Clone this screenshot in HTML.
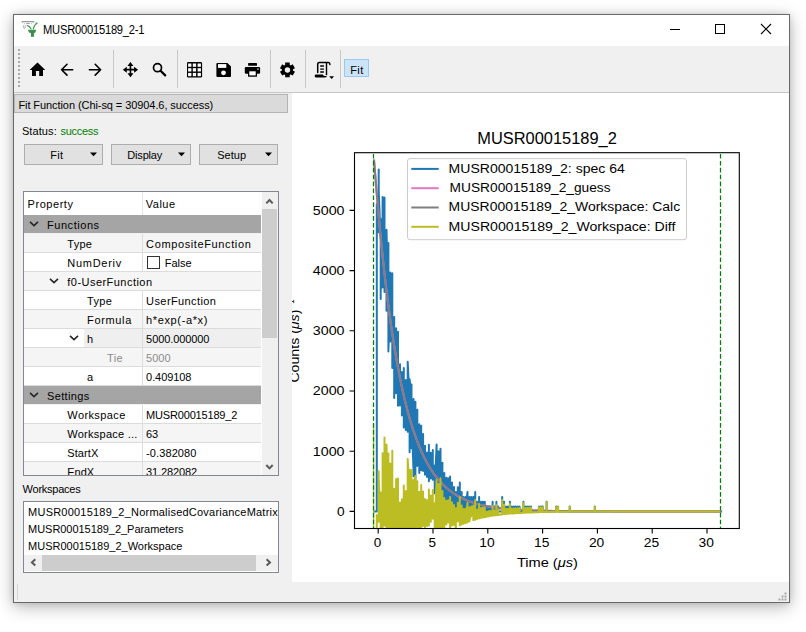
<!DOCTYPE html>
<html><head><meta charset="utf-8"><title>MUSR00015189_2-1</title>
<style>
html,body{margin:0;padding:0;width:806px;height:632px;overflow:hidden;background:#fff;font-family:"Liberation Sans",sans-serif;}
.b{position:absolute;box-sizing:border-box;}
.t{position:absolute;white-space:nowrap;font-family:"Liberation Sans",sans-serif;}
svg{overflow:hidden}
</style></head><body>
<div class="b" style="left:13px;top:14px;width:777px;height:589px;background:#f0f0f0;box-shadow:0 4px 16px rgba(0,0,0,0.28),0 0 6px rgba(0,0,0,0.12);"></div>
<div class="b" style="left:14px;top:15px;width:775px;height:31px;background:#fff"></div>
<div class="b" style="left:14px;top:46px;width:775px;height:46px;background:#f0f0f0"></div>
<div class="b" style="left:14px;top:92px;width:775px;height:1px;background:#c6c6c6"></div>
<div class="b" style="left:292px;top:93px;width:497px;height:489px;background:#fff"></div>
<div class="b" style="left:13px;top:14px;width:777px;height:589px;border:1px solid #686868;"></div>
<span class="t" style="left:43.3px;top:24.00px;font-size:12px;line-height:12px;color:#000;letter-spacing:-0.239px;transform:scaleX(0.93);transform-origin:0 0;">MUSR00015189_2-1</span>
<svg class="b" style="left:660px;top:15px" width="128" height="30" viewBox="660 15 128 30"><line x1="670" y1="29.5" x2="680" y2="29.5" stroke="#000" stroke-width="1"/><rect x="715.5" y="24.5" width="9" height="9" fill="none" stroke="#000" stroke-width="1"/><path d="M761 24 L771 34 M771 24 L761 34" stroke="#000" stroke-width="1.1"/></svg>
<svg class="b" style="left:20px;top:18px" width="20" height="20" viewBox="20 18 20 20"><path d="M22.3 22.8 V21.6 H33.7 V22.8" fill="none" stroke="#9a9a9a" stroke-width="1.1"/><path d="M26.2 23.6 H29.7" stroke="#8a8a8a" stroke-width="0.9"/><path d="M24.4 23.2 V24.2 M31.6 23.2 V24.2" stroke="#a0a0a0" stroke-width="0.8"/><path d="M23.6 25.3 V27.6 Q23.6 28.4 24.4 28.4 Q25.2 28.4 25.2 27.6 V25.3" fill="none" stroke="#a8a8a8" stroke-width="0.9"/><path d="M26.8 25.5 Q29.6 25.6 31.2 29.2" fill="none" stroke="#3f9a52" stroke-width="1.1"/><path d="M33.2 29.4 Q33.6 25.6 36.6 23.6" fill="none" stroke="#3f9a52" stroke-width="1.1"/><ellipse cx="36.6" cy="23.3" rx="1.3" ry="0.8" fill="#3f9a52"/><path d="M28.1 29.8 H36 Q36 32.9 34.1 32.9 V36.7 H30.9 V32.9 Q28.1 32.9 28.1 29.8 Z" fill="#3e8f4d"/></svg>
<div class="b" style="left:18px;top:49px;width:2px;height:39px;background:repeating-linear-gradient(to bottom,#a9a9a9 0,#a9a9a9 2px,transparent 2px,transparent 4px);"></div>
<div class="b" style="left:113px;top:50px;width:1px;height:38px;background:#c9c9c9"></div>
<div class="b" style="left:177px;top:50px;width:1px;height:38px;background:#c9c9c9"></div>
<div class="b" style="left:270px;top:50px;width:1px;height:38px;background:#c9c9c9"></div>
<div class="b" style="left:305px;top:50px;width:1px;height:38px;background:#c9c9c9"></div>
<div class="b" style="left:340px;top:50px;width:1px;height:38px;background:#c9c9c9"></div>
<svg class="b" style="left:14px;top:46px" width="360" height="46" viewBox="14 46 360 46"><path d="M37.5 62.6 L29.6 70.1 H32 V75.9 H35.9 V71.1 H39.2 V75.9 H43 V70.1 H45.3 Z" fill="#000"/><path d="M72.7 69.7 H61.6 M67 64.3 L61.6 69.7 L67 75.1" fill="none" stroke="#000" stroke-width="1.6" stroke-linecap="round" stroke-linejoin="round"/><path d="M89.4 69.7 H100.6 M95.2 64.3 L100.6 69.7 L95.2 75.1" fill="none" stroke="#000" stroke-width="1.6" stroke-linecap="round" stroke-linejoin="round"/><path d="M130.45 64.5 V74.8 M125.5 69.65 H135.4" stroke="#000" stroke-width="1.6"/><path d="M130.45 62 L133.45 66 L127.44999999999999 66 Z M130.45 77.3 L133.45 73.3 L127.44999999999999 73.3 Z M122.8 69.65 L126.8 66.65 L126.8 72.65 Z M138.1 69.65 L134.1 66.65 L134.1 72.65 Z" fill="#000"/><circle cx="157.5" cy="67.7" r="4.0" fill="none" stroke="#000" stroke-width="1.7"/><path d="M160.8 71.0 L165.2 75.4" stroke="#000" stroke-width="2.2" stroke-linecap="round"/><rect x="187" y="62.1" width="15.1" height="15.5" rx="1.3" fill="#000"/><rect x="188.1" y="63.5" width="3.3" height="3.3" fill="#fff"/><rect x="188.1" y="68.2" width="3.3" height="3.3" fill="#fff"/><rect x="188.1" y="72.9" width="3.3" height="3.3" fill="#fff"/><rect x="192.8" y="63.5" width="3.3" height="3.3" fill="#fff"/><rect x="192.8" y="68.2" width="3.3" height="3.3" fill="#fff"/><rect x="192.8" y="72.9" width="3.3" height="3.3" fill="#fff"/><rect x="197.6" y="63.5" width="3.3" height="3.3" fill="#fff"/><rect x="197.6" y="68.2" width="3.3" height="3.3" fill="#fff"/><rect x="197.6" y="72.9" width="3.3" height="3.3" fill="#fff"/><path d="M217.4 63 H227.4 L231 66.6 V75.9 Q231 76.9 230 76.9 H217.4 Q216.4 76.9 216.4 75.9 V64 Q216.4 63 217.4 63 Z" fill="#000"/><rect x="218" y="64.1" width="8.3" height="3.8" fill="#fff"/><circle cx="223.5" cy="72.8" r="2.4" fill="#fff"/><rect x="248.1" y="63" width="8.9" height="2.8" rx="0.6" fill="#000"/><rect x="244.8" y="67" width="15.3" height="6.7" rx="1.2" fill="#000"/><rect x="248" y="70.2" width="9" height="6.6" rx="0.5" fill="#000"/><rect x="249.3" y="71.3" width="6.4" height="4.1" fill="#fff"/><rect x="257.1" y="68.3" width="1.7" height="1.6" fill="#9a9a9a"/><path d="M285.17 64.84 L285.17 62.59 L289.73 62.59 L289.73 64.84 L290.74 65.42 L292.68 64.30 L294.96 68.24 L293.02 69.37 L293.02 70.53 L294.96 71.66 L292.68 75.60 L290.74 74.48 L289.73 75.06 L289.73 77.31 L285.17 77.31 L285.17 75.06 L284.16 74.48 L282.22 75.60 L279.94 71.66 L281.88 70.53 L281.88 69.37 L279.94 68.24 L282.22 64.30 L284.16 65.42 Z M290.15 69.95 A2.7 2.7 0 1 0 284.75 69.95 A2.7 2.7 0 1 0 290.15 69.95 Z" fill="#000" fill-rule="evenodd"/><path d="M317.7 72.4 V64.2 Q317.7 62.6 319.3 62.6 H328.4 Q329.9 62.6 329.9 64.4" fill="none" stroke="#000" stroke-width="1.5" stroke-linecap="round"/><path d="M326.5 62.8 V75.2" fill="none" stroke="#000" stroke-width="1.4"/><path d="M320.2 66 H323.9 M320.2 69.1 H323.9 M320.2 72 H323.9" stroke="#000" stroke-width="1.3"/><path d="M315.6 74.6 H322.8 Q323.3 76 324.5 76 H326.9 Q326.3 77.6 325 77.6 H316.2 Q314.7 77.6 314.7 76.1 Q314.7 74.6 315.6 74.6 Z" fill="#000"/><path d="M329.2 76.2 H334 L331.6 78.9 Z" fill="#000"/></svg>
<div class="b" style="left:344px;top:59px;width:25px;height:18px;background:#cce4f7;border:1px solid #99c9ef"></div>
<span class="t" style="left:350.3px;top:65.00px;font-size:11px;line-height:11px;color:#000;letter-spacing:0.355px;">Fit</span>
<div class="b" style="left:14px;top:94px;width:274px;height:19px;background:#dadada;border:1px solid #b4b4b4"></div>
<span class="t" style="left:18.4px;top:100.00px;font-size:11px;line-height:11px;color:#000;letter-spacing:-0.075px;">Fit Function (Chi-sq = 30904.6, success)</span>
<span class="t" style="left:21.9px;top:126.00px;font-size:11px;line-height:11px;color:#000;letter-spacing:0.093px;">Status:</span>
<span class="t" style="left:60.5px;top:126.00px;font-size:11px;line-height:11px;color:#007f00;letter-spacing:-0.279px;">success</span>
<div class="b" style="left:24px;top:144px;width:79px;height:21px;background:#e1e1e1;border:1px solid #adadad"></div>
<span class="t" style="left:50.2px;top:150.00px;font-size:11px;line-height:11px;color:#000;letter-spacing:0.322px;">Fit</span>
<svg class="b" style="left:90px;top:152px" width="8" height="5" viewBox="0 0 8 5"><path d="M0 0.6 H7 L3.5 4.2 Z" fill="#000"/></svg>
<div class="b" style="left:111px;top:144px;width:80px;height:21px;background:#e1e1e1;border:1px solid #adadad"></div>
<span class="t" style="left:127.3px;top:150.00px;font-size:11px;line-height:11px;color:#000;letter-spacing:-0.183px;">Display</span>
<svg class="b" style="left:178px;top:152px" width="8" height="5" viewBox="0 0 8 5"><path d="M0 0.6 H7 L3.5 4.2 Z" fill="#000"/></svg>
<div class="b" style="left:199px;top:144px;width:79px;height:21px;background:#e1e1e1;border:1px solid #adadad"></div>
<span class="t" style="left:217.3px;top:150.00px;font-size:11px;line-height:11px;color:#000;letter-spacing:-0.010px;">Setup</span>
<svg class="b" style="left:265px;top:152px" width="8" height="5" viewBox="0 0 8 5"><path d="M0 0.6 H7 L3.5 4.2 Z" fill="#000"/></svg>
<div class="b" style="left:23px;top:191px;width:256px;height:285px;background:#fff;border:1px solid #828790"></div>
<div class="b" style="left:142px;top:192px;width:1px;height:23px;background:#e5e5e5"></div>
<span class="t" style="left:27.6px;top:199.00px;font-size:11px;line-height:11px;color:#000;letter-spacing:0.540px;">Property</span>
<span class="t" style="left:145.7px;top:199.00px;font-size:11px;line-height:11px;color:#000;letter-spacing:0.534px;">Value</span>
<div class="b" style="left:24px;top:192px;width:237px;height:283px;overflow:hidden"><div class="b" style="left:-24px;top:-192px;width:300px;height:300px"><div class="b" style="left:24px;top:215px;width:237px;height:18px;background:#a5a5a5"></div><div class="b" style="left:24px;top:233px;width:237px;height:1px;background:#f0f0f0"></div><svg class="b" style="left:28.5px;top:220px" width="10" height="8" viewBox="0 0 10 8"><path d="M1 1.8 L5 5.6 L9 1.8" fill="none" stroke="#262626" stroke-width="1.6"/></svg><span class="t" style="left:47.0px;top:220.00px;font-size:11px;line-height:11px;color:#000;letter-spacing:0.544px;">Functions</span><div class="b" style="left:24px;top:234px;width:237px;height:18px;background:#f5f5f5"></div><div class="b" style="left:24px;top:252px;width:237px;height:1px;background:#dcdcdc"></div><div class="b" style="left:142px;top:234px;width:1px;height:18px;background:#dcdcdc"></div><span class="t" style="left:67.3px;top:239.00px;font-size:11px;line-height:11px;color:#000;letter-spacing:0.235px;">Type</span><span class="t" style="left:146.1px;top:239.00px;font-size:11px;line-height:11px;color:#000;letter-spacing:0.619px;">CompositeFunction</span><div class="b" style="left:24px;top:253px;width:237px;height:18px;background:#ffffff"></div><div class="b" style="left:24px;top:271px;width:237px;height:1px;background:#dcdcdc"></div><div class="b" style="left:142px;top:253px;width:1px;height:18px;background:#dcdcdc"></div><span class="t" style="left:67.3px;top:258.00px;font-size:11px;line-height:11px;color:#000;letter-spacing:0.724px;">NumDeriv</span><div class="b" style="left:147px;top:256px;width:13px;height:13px;background:#fff;border:1px solid #333"></div><span class="t" style="left:164.8px;top:258.00px;font-size:11px;line-height:11px;color:#000;letter-spacing:-0.021px;">False</span><div class="b" style="left:24px;top:272px;width:237px;height:18px;background:#f5f5f5"></div><div class="b" style="left:24px;top:290px;width:237px;height:1px;background:#dcdcdc"></div><svg class="b" style="left:48.6px;top:277px" width="10" height="8" viewBox="0 0 10 8"><path d="M1 1.8 L5 5.6 L9 1.8" fill="none" stroke="#262626" stroke-width="1.6"/></svg><span class="t" style="left:67.3px;top:277.00px;font-size:11px;line-height:11px;color:#000;letter-spacing:0.462px;">f0-UserFunction</span><div class="b" style="left:24px;top:291px;width:237px;height:18px;background:#ffffff"></div><div class="b" style="left:24px;top:309px;width:237px;height:1px;background:#dcdcdc"></div><div class="b" style="left:142px;top:291px;width:1px;height:18px;background:#dcdcdc"></div><span class="t" style="left:87.1px;top:296.00px;font-size:11px;line-height:11px;color:#000;letter-spacing:0.310px;">Type</span><span class="t" style="left:146.1px;top:296.00px;font-size:11px;line-height:11px;color:#000;letter-spacing:0.407px;">UserFunction</span><div class="b" style="left:24px;top:310px;width:237px;height:18px;background:#f5f5f5"></div><div class="b" style="left:24px;top:328px;width:237px;height:1px;background:#dcdcdc"></div><div class="b" style="left:142px;top:310px;width:1px;height:18px;background:#dcdcdc"></div><span class="t" style="left:87.1px;top:315.00px;font-size:11px;line-height:11px;color:#000;letter-spacing:0.637px;">Formula</span><span class="t" style="left:146.1px;top:315.00px;font-size:11px;line-height:11px;color:#000;letter-spacing:0.624px;">h*exp(-a*x)</span><div class="b" style="left:24px;top:329px;width:237px;height:18px;background:#ffffff"></div><div class="b" style="left:24px;top:347px;width:237px;height:1px;background:#dcdcdc"></div><div class="b" style="left:142px;top:329px;width:1px;height:18px;background:#dcdcdc"></div><div class="b" style="left:84px;top:329px;width:58px;height:18px;background:#efefef"></div><div class="b" style="left:143px;top:329px;width:118px;height:18px;background:#efefef"></div><svg class="b" style="left:68.5px;top:334px" width="10" height="8" viewBox="0 0 10 8"><path d="M1 1.8 L5 5.6 L9 1.8" fill="none" stroke="#262626" stroke-width="1.6"/></svg><span class="t" style="left:87.1px;top:334.00px;font-size:11px;line-height:11px;color:#000;letter-spacing:0.375px;">h</span><span class="t" style="left:146.1px;top:334.00px;font-size:11px;line-height:11px;color:#000;letter-spacing:-0.085px;">5000.000000</span><div class="b" style="left:24px;top:348px;width:237px;height:18px;background:#f5f5f5"></div><div class="b" style="left:24px;top:366px;width:237px;height:1px;background:#dcdcdc"></div><div class="b" style="left:142px;top:348px;width:1px;height:18px;background:#dcdcdc"></div><span class="t" style="left:107.1px;top:353.00px;font-size:11px;line-height:11px;color:#8c8c8c;letter-spacing:0.275px;">Tie</span><span class="t" style="left:146.1px;top:353.00px;font-size:11px;line-height:11px;color:#8c8c8c;letter-spacing:-0.021px;">5000</span><div class="b" style="left:24px;top:367px;width:237px;height:18px;background:#ffffff"></div><div class="b" style="left:24px;top:385px;width:237px;height:1px;background:#dcdcdc"></div><div class="b" style="left:142px;top:367px;width:1px;height:18px;background:#dcdcdc"></div><span class="t" style="left:87.1px;top:372.00px;font-size:11px;line-height:11px;color:#000;letter-spacing:-0.325px;">a</span><span class="t" style="left:146.1px;top:372.00px;font-size:11px;line-height:11px;color:#000;letter-spacing:-0.086px;">0.409108</span><div class="b" style="left:24px;top:386px;width:237px;height:18px;background:#a5a5a5"></div><div class="b" style="left:24px;top:404px;width:237px;height:1px;background:#f0f0f0"></div><svg class="b" style="left:28.5px;top:391px" width="10" height="8" viewBox="0 0 10 8"><path d="M1 1.8 L5 5.6 L9 1.8" fill="none" stroke="#262626" stroke-width="1.6"/></svg><span class="t" style="left:47.0px;top:391.00px;font-size:11px;line-height:11px;color:#000;letter-spacing:0.369px;">Settings</span><div class="b" style="left:24px;top:405px;width:237px;height:18px;background:#ffffff"></div><div class="b" style="left:24px;top:423px;width:237px;height:1px;background:#dcdcdc"></div><div class="b" style="left:142px;top:405px;width:1px;height:18px;background:#dcdcdc"></div><span class="t" style="left:67.3px;top:410.00px;font-size:11px;line-height:11px;color:#000;letter-spacing:0.397px;">Workspace</span><span class="t" style="left:146.1px;top:410.00px;font-size:11px;line-height:11px;color:#000;letter-spacing:-0.177px;">MUSR00015189_2</span><div class="b" style="left:24px;top:424px;width:237px;height:18px;background:#f5f5f5"></div><div class="b" style="left:24px;top:442px;width:237px;height:1px;background:#dcdcdc"></div><div class="b" style="left:142px;top:424px;width:1px;height:18px;background:#dcdcdc"></div><span class="t" style="left:67.3px;top:429.00px;font-size:11px;line-height:11px;color:#000;letter-spacing:0.250px;">Workspace ...</span><span class="t" style="left:146.1px;top:429.00px;font-size:11px;line-height:11px;color:#000;letter-spacing:-0.175px;">63</span><div class="b" style="left:24px;top:443px;width:237px;height:18px;background:#ffffff"></div><div class="b" style="left:24px;top:461px;width:237px;height:1px;background:#dcdcdc"></div><div class="b" style="left:142px;top:443px;width:1px;height:18px;background:#dcdcdc"></div><span class="t" style="left:67.3px;top:448.00px;font-size:11px;line-height:11px;color:#000;letter-spacing:0.087px;">StartX</span><span class="t" style="left:146.1px;top:448.00px;font-size:11px;line-height:11px;color:#000;letter-spacing:0.095px;">-0.382080</span><div class="b" style="left:24px;top:462px;width:237px;height:18px;background:#f5f5f5"></div><div class="b" style="left:24px;top:480px;width:237px;height:1px;background:#dcdcdc"></div><div class="b" style="left:142px;top:462px;width:1px;height:18px;background:#dcdcdc"></div><span class="t" style="left:67.3px;top:467.00px;font-size:11px;line-height:11px;color:#000;letter-spacing:-0.030px;">EndX</span><span class="t" style="left:146.1px;top:467.00px;font-size:11px;line-height:11px;color:#000;letter-spacing:-0.122px;">31.282082</span></div></div>
<div class="b" style="left:262px;top:192px;width:16px;height:283px;background:#f0f0f0"></div>
<div class="b" style="left:262px;top:209px;width:15px;height:129px;background:#cdcdcd"></div>
<svg class="b" style="left:262px;top:192px" width="16" height="283" viewBox="262 192 16 283"><path d="M266.3 203.4 L269.5 200 L272.7 203.4" fill="none" stroke="#5a5a5a" stroke-width="2.0"/><path d="M266.3 465 L269.5 468.4 L272.7 465" fill="none" stroke="#5a5a5a" stroke-width="2.0"/></svg>
<span class="t" style="left:22.6px;top:484.00px;font-size:11px;line-height:11px;color:#000;letter-spacing:-0.253px;">Workspaces</span>
<div class="b" style="left:23px;top:501px;width:256px;height:72px;background:#fff;border:1px solid #828790"></div>
<div class="b" style="left:24px;top:502px;width:254px;height:53px;overflow:hidden"><div class="b" style="left:-24px;top:-502px;width:400px;height:100px"><span class="t" style="left:28.1px;top:507.00px;font-size:11px;line-height:11px;color:#000;letter-spacing:0.217px;">MUSR00015189_2_NormalisedCovarianceMatrix</span><span class="t" style="left:28.1px;top:524.00px;font-size:11px;line-height:11px;color:#000;letter-spacing:-0.046px;">MUSR00015189_2_Parameters</span><span class="t" style="left:28.1px;top:541.00px;font-size:11px;line-height:11px;color:#000;letter-spacing:-0.008px;">MUSR00015189_2_Workspace</span></div></div>
<div class="b" style="left:24px;top:555px;width:254px;height:16px;background:#f0f0f0"></div>
<div class="b" style="left:42px;top:555px;width:214px;height:16px;background:#cdcdcd"></div>
<svg class="b" style="left:24px;top:555px" width="254" height="16" viewBox="24 555 254 16"><path d="M35.3 559.2 L31.9 562.4 L35.3 565.6" fill="none" stroke="#5a5a5a" stroke-width="2.0"/><path d="M266.6 559.2 L270 562.4 L266.6 565.6" fill="none" stroke="#5a5a5a" stroke-width="2.0"/></svg>
<svg class="b" style="left:292px;top:93px" width="497" height="489" viewBox="292 93 497 489"><defs><clipPath id="ax"><rect x="354.5" y="152.7" width="384.8" height="375.8"/></clipPath></defs><g clip-path="url(#ax)" fill="none" stroke-linejoin="round"><path d="M373.0 511.4V511.4V511.4V511.4V511.4V511.4V511.4V511.4V511.4V511.4V511.4L374.9 511.4V511.4V511.4V511.4V511.4V511.4V511.4V511.4V511.4V511.4V511.4L376.8 511.4V511.4V511.4V511.4V511.4V511.4V204.0V252.5V241.4V216.5V207.3L378.7 211.5V211.5V169.6V192.7V218.9V225.9V219.5V212.1V189.8V232.2V191.2L380.7 241.0V286.8V273.2V219.6V258.3V299.1V219.1V245.3V232.8V265.5V291.0L382.6 251.3V230.6V207.7V287.5V264.0V197.1V234.2V219.1V242.3V253.0V247.6L384.5 266.2V279.7V210.2V231.6V197.4V212.8V238.6V279.5V292.0V283.0V274.4L386.5 277.7V279.4V310.8V242.3V278.1V276.8V310.2V295.4V295.1V269.1V229.7L388.4 314.6V299.6V243.0V302.4V296.3V253.2V299.0V303.3V351.6V288.7V350.1L390.3 296.9V319.8V298.6V322.4V310.1V336.7V272.6V295.3V287.0V313.3V341.5L392.3 309.7V288.3V368.0V326.9V357.8V333.3V273.2V302.1V359.8V326.5V330.4L394.2 316.9V327.7V373.1V332.4V372.1V345.5V397.9V331.1V355.6V380.4V355.4L396.1 350.5V386.9V358.6V360.4V358.7V357.4V371.0V348.1V393.2V328.2V364.7L398.0 364.9V405.7V331.7V394.2V355.9V380.6V398.1V362.1V366.2V384.4V405.2L400.0 364.2V386.2V373.2V390.6V400.2V376.1V380.4V402.0V405.6V377.3V388.5L401.9 392.7V405.5V372.1V378.9V380.2V415.5V397.5V409.1V388.9V379.5V409.6L403.8 388.0V387.1V427.5V368.0V377.2V387.9V398.4V390.6V384.6V383.2V392.3L405.8 401.9V380.1V416.4V401.9V430.0V401.8V403.9V411.3V428.2V415.4V421.1L407.7 416.3V409.9V429.4V420.8V412.3V398.9V431.8V423.8V423.8V406.1V361.7L409.6 401.1V405.7V408.7V444.6V413.0V437.7V403.8V443.6V414.8V452.3V379.2L411.5 397.4V399.4V448.2V414.7V389.2V399.2V414.8V402.6V384.6V427.6V411.8L413.5 470.4V414.3V470.9V417.6V476.3V399.0V429.0V446.4V447.7V429.2V436.9L415.4 409.8V445.9V444.5V456.7V419.6V424.4V423.9V401.7V440.7V494.7V448.2L417.3 460.1V421.3V409.7V466.1V428.2V453.3V457.4V435.3V445.4V465.4V450.9L419.3 424.3V439.8V450.8V473.0V444.3V441.2V433.4V459.9V437.6V450.0V441.7L421.2 448.5V468.5V470.2V464.3V454.5V466.0V452.7V466.4V432.5V425.8V434.4L423.1 437.3V452.6V434.0V457.3V452.3V458.8V440.7V460.6V461.8V470.9V461.0L425.0 457.6V461.2V465.1V445.8V456.9V474.7V453.5V469.6V462.7V449.2V469.9L427.0 467.9V458.3V459.8V467.3V463.2V477.1V456.9V472.8V461.6V474.5V452.6L428.9 465.3V463.9V460.6V476.3V468.2V476.0V459.2V444.7V479.7V481.3V473.3L430.8 456.4V478.4V467.9V464.1V452.8V457.4V460.3V471.5V459.8V462.2V471.6L432.8 471.0V471.0V458.9V450.1V457.4V479.4V469.5V460.5V479.7V473.9V473.4L434.7 465.4V477.1V493.2V490.2V477.2V486.1V476.7V473.3V480.5V475.5V490.5L436.6 444.5V487.8V474.5V472.1V493.7V463.9V481.3V483.7V474.3V481.7V483.7L438.5 451.3V477.7V464.3V474.0V458.0V487.6V499.7V478.6V472.4V470.2V473.2L440.5 483.6V466.9V511.4V481.2V485.0V448.8V467.8V490.8V487.3V472.9V468.1L442.4 482.1V462.8V472.2V475.5V501.8V486.4V480.3V493.9V492.6V495.8V477.7L444.3 476.2V482.5V481.9V510.2V492.1V480.6V484.4V487.3V472.9V492.1V480.7L446.3 492.1V477.7V500.1V480.6V484.2V493.6V484.4V485.7V492.1V492.1V477.7L448.2 492.1V493.8V492.1V479.9V497.0V500.2V478.3V499.1V498.8V495.7V488.1L450.1 492.1V497.0V511.4V501.8V497.0V476.5V487.3V492.1V482.5V492.6V501.8L452.0 501.8V482.5V492.1V501.8V488.3V497.0V497.0V506.6V501.8V497.0V501.8L454.0 497.0V506.6V492.1V501.8V487.1V506.6V493.1V488.8V506.6V493.6V497.0L455.9 511.4V497.0V506.6V501.8V497.0V492.1V497.0V497.0V503.3V492.1V497.0L457.8 497.0V501.8V501.8V501.8V492.1V487.3V497.0V492.1V501.8V506.6V501.8L459.8 506.6V497.0V497.0V482.5V501.8V506.6V501.8V506.6V506.6V511.4V501.8L461.7 501.8V501.8V492.1V501.8V506.6V492.1V506.6V511.4V497.0V501.8V511.4L463.6 506.6V501.8V506.6V506.6V501.8V501.8V501.8V511.4V506.6V497.0V506.6L465.6 501.8V506.6V511.4V497.0V506.6V501.8V506.6V511.4V501.8V511.4V506.6L467.5 492.1V506.6V511.4V506.6V511.4V506.6V506.6V492.1V506.6V501.8V511.4L469.4 501.8V497.0V501.8V506.6V511.4V511.4V506.6V511.4V511.4V511.4V511.4L471.3 501.8V506.6V497.0V501.8V506.6V506.6V501.8V501.8V506.6V501.8V501.8L473.3 497.0V506.6V511.4V506.6V511.4V501.8V501.8V501.8V497.0V511.4V506.6L475.2 511.4V501.8V511.4V506.6V511.4V506.6V506.6V511.4V492.1V506.6V506.6L477.1 506.6V511.4V501.8V511.4V511.4V511.4V506.6V506.6V506.6V511.4V506.6L479.1 506.6V511.4V497.0V511.4V511.4V511.4V511.4V511.4V506.6V511.4V501.8L481.0 511.4V501.8V506.6V511.4V511.4V501.8V506.6V511.4V511.4V501.8V511.4L482.9 506.6V506.6V501.8V501.8V511.4V511.4V506.6V506.6V501.8V511.4V511.4L484.8 511.4V506.6V511.4V506.6V511.4V501.8V506.6V506.6V506.6V506.6V511.4L486.8 511.4V506.6V511.4V511.4V511.4V511.4V511.4V511.4V511.4V511.4V506.6L488.7 506.6V511.4V511.4V511.4V511.4V511.4V506.6V506.6V506.6V511.4V506.6L490.6 506.6V511.4V511.4V511.4V506.6V506.6V506.6V511.4V511.4V506.6V511.4L492.6 511.4V511.4V511.4V511.4V501.8V506.6V506.6V511.4V511.4V511.4V511.4L494.5 506.6V506.6V506.6V511.4V506.6V511.4V506.6V506.6V511.4V506.6V511.4L496.4 511.4V511.4V511.4V506.6V511.4V506.6V511.4V511.4V511.4V501.8V511.4L498.3 511.4V511.4V511.4V511.4V511.4V511.4V506.6V511.4V511.4V506.6V511.4L500.3 511.4V511.4V511.4V511.4V511.4V511.4V511.4V511.4V511.4V511.4V511.4L502.2 511.4V511.4V497.0V506.6V511.4V511.4V511.4V511.4V511.4V506.6V506.6L504.1 511.4V511.4V506.6V511.4V511.4V506.6V511.4V511.4V501.8V511.4V511.4L506.1 511.4V511.4V511.4V511.4V511.4V511.4V511.4V511.4V511.4V511.4V506.6L508.0 511.4V511.4V511.4V511.4V511.4V511.4V511.4V511.4V511.4V511.4V506.6L509.9 511.4V511.4V511.4V511.4V501.8V511.4V511.4V511.4V511.4V511.4V506.6L511.8 511.4V511.4V506.6V511.4V511.4V511.4V511.4V511.4V511.4V506.6V511.4L513.8 511.4V511.4V511.4V511.4V511.4V506.6V506.6V511.4V511.4V511.4V511.4L515.7 511.4V511.4V511.4V511.4V511.4V511.4V511.4V511.4V506.6V511.4V511.4L517.6 511.4V511.4V506.6V511.4V511.4V511.4V506.6V511.4V511.4V511.4V511.4L519.6 511.4V511.4V511.4V511.4V511.4V511.4V511.4V511.4V506.6V506.6V511.4L521.5 511.4V511.4V511.4V511.4V511.4V511.4V511.4V511.4V511.4V511.4V511.4L523.4 511.4V511.4V511.4V511.4V511.4V511.4V511.4V511.4V511.4V501.8V511.4L525.3 511.4V506.6V511.4V511.4V511.4V511.4V511.4V511.4V511.4V511.4V511.4L527.3 511.4V511.4V511.4V511.4V511.4V511.4V511.4V511.4V506.6V511.4V511.4L529.2 511.4V506.6V511.4V511.4V511.4V511.4V511.4V511.4V511.4V511.4V511.4L531.1 511.4V511.4V511.4V511.4V511.4V511.4V511.4V511.4V506.6V511.4V511.4L533.1 511.4V511.4V511.4V511.4V511.4V511.4V511.4V511.4V511.4V511.4V511.4L535.0 511.4V511.4V511.4V511.4V511.4V511.4V511.4V511.4V511.4V511.4V511.4L536.9 511.4V511.4V511.4V511.4V511.4V511.4V511.4V511.4V511.4V511.4V511.4L538.9 511.4V511.4V511.4V511.4V511.4V511.4V511.4V511.4V511.4V506.6V511.4L540.8 511.4V511.4V511.4V511.4V511.4V506.6V511.4V511.4V511.4V511.4V511.4L542.7 506.6V511.4V511.4V511.4V511.4V511.4V511.4V506.6V511.4V511.4V511.4L544.6 511.4V511.4V511.4V511.4V511.4V511.4V511.4V511.4V511.4V511.4V511.4L546.6 511.4V511.4V511.4V511.4V511.4V511.4V501.8V511.4V511.4V511.4V511.4L548.5 511.4V511.4V511.4V511.4V511.4V511.4V511.4V511.4V511.4V511.4V511.4L550.4 511.4V511.4V511.4V511.4V511.4V511.4V511.4V511.4V511.4V511.4V511.4L552.4 511.4V511.4V511.4V511.4V511.4V511.4V511.4V511.4V511.4V511.4V511.4L554.3 511.4V511.4V511.4V511.4V511.4V511.4V511.4V511.4V511.4V511.4V511.4L556.2 511.4V511.4V511.4V506.6V511.4V511.4V511.4V511.4V511.4V511.4V511.4L558.1 506.6V511.4V511.4V511.4V511.4V511.4V511.4V511.4V511.4V511.4V511.4L560.1 511.4V511.4V511.4V511.4V511.4V511.4V511.4V511.4V511.4V511.4V511.4L562.0 511.4V511.4V511.4V511.4V511.4V511.4V511.4V511.4V511.4V511.4V511.4L563.9 511.4V511.4V511.4V511.4V511.4V511.4V511.4V511.4V511.4V511.4V511.4L565.9 511.4V511.4V511.4V511.4V511.4V511.4V511.4V511.4V511.4V511.4V511.4L567.8 511.4V511.4V511.4V511.4V511.4V511.4V511.4V511.4V511.4V511.4V511.4L569.7 511.4V506.6V511.4V511.4V506.6V511.4V511.4V511.4V511.4V511.4V511.4L571.6 511.4V511.4V511.4V511.4V511.4V511.4V511.4V511.4V511.4V511.4V511.4L573.6 511.4V511.4V511.4V511.4V511.4V511.4V511.4V511.4V511.4V511.4V511.4L575.5 511.4V511.4V511.4V511.4V511.4V511.4V511.4V511.4V511.4V511.4V511.4L577.4 511.4V511.4V511.4V511.4V511.4V511.4V511.4V511.4V511.4V511.4V511.4L579.4 511.4V511.4V511.4V511.4V511.4V511.4V511.4V511.4V511.4V511.4V511.4L581.3 511.4V511.4V511.4V511.4V511.4V511.4V511.4V511.4V511.4V511.4V511.4L583.2 511.4V511.4V511.4V511.4V511.4V511.4V511.4V511.4V511.4V511.4V511.4L585.1 511.4V511.4V511.4V511.4V511.4V511.4V511.4V511.4V511.4V511.4V511.4L587.1 511.4V511.4V511.4V511.4V511.4V511.4V511.4V511.4V511.4V511.4V511.4L589.0 511.4V511.4V511.4V511.4V511.4V511.4V511.4V511.4V511.4V511.4V511.4L590.9 511.4V511.4V511.4V511.4V511.4V511.4V511.4V511.4V511.4V511.4V511.4L592.9 511.4V511.4V511.4V511.4V511.4V511.4V511.4V511.4V511.4V511.4V511.4L594.8 511.4V511.4V506.6V511.4V511.4V511.4V511.4V511.4V511.4V511.4V511.4L596.7 511.4V511.4V511.4V511.4V511.4V511.4V511.4V511.4V511.4V511.4V511.4L598.6 511.4V511.4V511.4V511.4V511.4V511.4V511.4V511.4V511.4V511.4V511.4L600.6 511.4V511.4V511.4V511.4V511.4V511.4V511.4V511.4V511.4V511.4V511.4L602.5 511.4V511.4V511.4V511.4V511.4V511.4V511.4V511.4V511.4V511.4V511.4L604.4 511.4V511.4V511.4V511.4V511.4V511.4V511.4V511.4V511.4V511.4V511.4L606.4 511.4V511.4V511.4V511.4V511.4V511.4V511.4V511.4V511.4V511.4V511.4L608.3 511.4V511.4V511.4V511.4V511.4V511.4V511.4V511.4V511.4V511.4V511.4L610.2 511.4V511.4V511.4V511.4V511.4V511.4V511.4V511.4V511.4V511.4V511.4L612.2 511.4V511.4V511.4V511.4V511.4V511.4V511.4V511.4V511.4V511.4V511.4L614.1 511.4V511.4V511.4V511.4V511.4V511.4V511.4V511.4V511.4V511.4V511.4L616.0 511.4V511.4V511.4V511.4V511.4V511.4V511.4V511.4V511.4V511.4V511.4L617.9 511.4V511.4V511.4V511.4V511.4V511.4V511.4V511.4V511.4V511.4V511.4L619.9 511.4V511.4V511.4V511.4V511.4V511.4V511.4V511.4V511.4V511.4V511.4L621.8 511.4V511.4V511.4V511.4V511.4V511.4V511.4V511.4V511.4V511.4V511.4L623.7 511.4V511.4V511.4V511.4V511.4V511.4V511.4V511.4V511.4V511.4V511.4L625.7 511.4V511.4V511.4V511.4V511.4V511.4V511.4V511.4V511.4V511.4V511.4L627.6 511.4V511.4V511.4V511.4V511.4V511.4V511.4V511.4V511.4V511.4V511.4L629.5 511.4V511.4V511.4V511.4V511.4V511.4V511.4V511.4V511.4V511.4V511.4L631.4 511.4V511.4V511.4V511.4V511.4V511.4V511.4V511.4V511.4V511.4V511.4L633.4 511.4V511.4V511.4V511.4V511.4V511.4V511.4V511.4V511.4V511.4V511.4L635.3 511.4V511.4V511.4V511.4V511.4V511.4V511.4V511.4V511.4V511.4V511.4L637.2 511.4V511.4V511.4V511.4V511.4V511.4V511.4V511.4V511.4V511.4V511.4L639.2 511.4V511.4V511.4V511.4V511.4V511.4V511.4V511.4V511.4V511.4V511.4L641.1 511.4V511.4V511.4V511.4V511.4V511.4V511.4V511.4V511.4V511.4V511.4L643.0 511.4V511.4V511.4V511.4V511.4V511.4V511.4V511.4V511.4V511.4V511.4L644.9 511.4V511.4V511.4V511.4V511.4V511.4V511.4V511.4V511.4V511.4V511.4L646.9 511.4V511.4V511.4V511.4V511.4V511.4V511.4V511.4V511.4V511.4V511.4L648.8 511.4V511.4V511.4V511.4V511.4V511.4V511.4V511.4V511.4V511.4V511.4L650.7 511.4V511.4V511.4V511.4V511.4V511.4V511.4V511.4V511.4V511.4V511.4L652.7 511.4V511.4V511.4V511.4V511.4V511.4V511.4V511.4V511.4V511.4V511.4L654.6 511.4V511.4V511.4V511.4V511.4V511.4V511.4V511.4V511.4V511.4V511.4L656.5 511.4V511.4V511.4V511.4V511.4V511.4V511.4V511.4V511.4V511.4V511.4L658.4 511.4V511.4V511.4V511.4V511.4V511.4V511.4V511.4V511.4V511.4V511.4L660.4 511.4V511.4V511.4V511.4V511.4V511.4V511.4V511.4V511.4V511.4V511.4L662.3 511.4V511.4V511.4V511.4V511.4V511.4V511.4V511.4V511.4V511.4V511.4L664.2 511.4V511.4V511.4V511.4V511.4V511.4V511.4V511.4V511.4V511.4V511.4L666.2 511.4V511.4V511.4V511.4V511.4V511.4V511.4V511.4V511.4V511.4V511.4L668.1 511.4V511.4V511.4V511.4V511.4V511.4V511.4V511.4V511.4V511.4V511.4L670.0 511.4V511.4V511.4V511.4V511.4V511.4V511.4V511.4V511.4V511.4V511.4L671.9 511.4V511.4V511.4V511.4V511.4V511.4V511.4V511.4V511.4V511.4V511.4L673.9 511.4V511.4V511.4V511.4V511.4V511.4V511.4V511.4V511.4V511.4V511.4L675.8 511.4V511.4V511.4V511.4V511.4V511.4V511.4V511.4V511.4V511.4V511.4L677.7 511.4V511.4V511.4V511.4V511.4V511.4V511.4V511.4V511.4V511.4V511.4L679.7 511.4V511.4V511.4V511.4V511.4V511.4V511.4V511.4V511.4V511.4V511.4L681.6 511.4V511.4V511.4V511.4V511.4V511.4V511.4V511.4V511.4V511.4V511.4L683.5 511.4V511.4V511.4V511.4V511.4V511.4V511.4V511.4V511.4V511.4V511.4L685.5 511.4V511.4V511.4V511.4V511.4V511.4V511.4V511.4V511.4V511.4V511.4L687.4 511.4V511.4V511.4V511.4V511.4V511.4V511.4V511.4V511.4V511.4V511.4L689.3 511.4V511.4V511.4V511.4V511.4V511.4V511.4V511.4V511.4V511.4V511.4L691.2 511.4V511.4V511.4V511.4V511.4V511.4V511.4V511.4V511.4V511.4V511.4L693.2 511.4V511.4V511.4V511.4V511.4V511.4V511.4V511.4V511.4V511.4V511.4L695.1 511.4V511.4V511.4V511.4V511.4V511.4V511.4V511.4V511.4V511.4V511.4L697.0 511.4V511.4V511.4V511.4V511.4V511.4V511.4V511.4V511.4V511.4V511.4L699.0 511.4V511.4V511.4V511.4V511.4V511.4V511.4V511.4V511.4V511.4V511.4L700.9 511.4V511.4V511.4V511.4V511.4V511.4V511.4V511.4V511.4V511.4V511.4L702.8 511.4V511.4V511.4V511.4V511.4V511.4V511.4V511.4V511.4V511.4V511.4L704.7 511.4V511.4V511.4V511.4V511.4V511.4V511.4V511.4V511.4V511.4V511.4L706.7 511.4V511.4V511.4V511.4V511.4V511.4V511.4V511.4V511.4V511.4V511.4L708.6 511.4V511.4V511.4V511.4V511.4V511.4V511.4V511.4V511.4V511.4V511.4L710.5 511.4V511.4V511.4V511.4V511.4V511.4V511.4V511.4V511.4V511.4V511.4L712.5 511.4V511.4V511.4V511.4V511.4V511.4V511.4V511.4V511.4V511.4V511.4L714.4 511.4V511.4V511.4V511.4V511.4V511.4V511.4V511.4V511.4V511.4V511.4L716.3 511.4V511.4V511.4V511.4V511.4V511.4V511.4V511.4V511.4V511.4V511.4L718.2 511.4V511.4V511.4V511.4V511.4V511.4V511.4V511.4V511.4V511.4V511.4L720.2 511.4V511.4V511.4V511.4V511.4V511.4V511.4V511.4V511.4V511.4V511.4L722.1 511.4V511.4V511.4V511.4V511.4" stroke="#1f77b4" stroke-width="2.0"/><path d="M374.0 159.5L375.5 178.1 376.9 195.6 378.4 212.3 379.8 228.1 381.3 243.0 382.7 257.2 384.2 270.6 385.6 283.3 387.1 295.3 388.5 306.7 390.0 317.5 391.4 327.8 392.9 337.4 394.3 346.6 395.8 355.3 397.2 363.6 398.7 371.4 400.1 378.7 401.6 385.7 403.1 392.4 404.5 398.7 406.0 404.6 407.4 410.2 408.9 415.6 410.3 420.6 411.8 425.4 413.2 430.0 414.7 434.2 416.1 438.3 417.6 442.2 419.0 445.8 420.5 449.3 421.9 452.6 423.4 455.7 424.8 458.6 426.3 461.4 427.7 464.0 429.2 466.5 430.6 468.9 432.1 471.1 433.5 473.3 435.0 475.3 436.5 477.2 437.9 479.0 439.4 480.7 440.8 482.3 442.3 483.9 443.7 485.3 445.2 486.7 446.6 488.0 448.1 489.2 449.5 490.4 451.0 491.5 452.4 492.5 453.9 493.5 455.3 494.5 456.8 495.4 458.2 496.2 459.7 497.0 461.1 497.8 462.6 498.5 464.0 499.2 465.5 499.8 466.9 500.4 468.4 501.0 469.8 501.6 471.3 502.1 472.8 502.6 474.2 503.0 475.7 503.5 477.1 503.9 478.6 504.3 480.0 504.7 481.5 505.0 482.9 505.4 484.4 505.7 485.8 506.0 487.3 506.3 488.7 506.5 490.2 506.8 491.6 507.0 493.1 507.3 494.5 507.5 496.0 507.7 497.4 507.9 498.9 508.1 500.3 508.2 501.8 508.4 503.2 508.6 504.7 508.7 506.1 508.9 507.6 509.0 509.1 509.1 510.5 509.2 512.0 509.4 513.4 509.5 514.9 509.6 516.3 509.7 517.8 509.8 519.2 509.8 520.7 509.9 522.1 510.0 523.6 510.1 525.0 510.1 526.5 510.2 527.9 510.3 529.4 510.3 530.8 510.4 532.3 510.4 533.7 510.5 535.2 510.5 536.6 510.6 538.1 510.6 539.5 510.7 541.0 510.7 542.4 510.7 543.9 510.8 545.4 510.8 546.8 510.8 548.3 510.9 549.7 510.9 551.2 510.9 552.6 511.0 554.1 511.0 555.5 511.0 557.0 511.0 558.4 511.0 559.9 511.1 561.3 511.1 562.8 511.1 564.2 511.1 565.7 511.1 567.1 511.1 568.6 511.2 570.0 511.2 571.5 511.2 572.9 511.2 574.4 511.2 575.8 511.2 577.3 511.2 578.8 511.2 580.2 511.2 581.7 511.2 583.1 511.3 584.6 511.3 586.0 511.3 587.5 511.3 588.9 511.3 590.4 511.3 591.8 511.3 593.3 511.3 594.7 511.3 596.2 511.3 597.6 511.3 599.1 511.3 600.5 511.3 602.0 511.3 603.4 511.3 604.9 511.3 606.3 511.3 607.8 511.3 609.2 511.3 610.7 511.3 612.1 511.4 613.6 511.4 615.1 511.4 616.5 511.4 618.0 511.4 619.4 511.4 620.9 511.4 622.3 511.4 623.8 511.4 625.2 511.4 626.7 511.4 628.1 511.4 629.6 511.4 631.0 511.4 632.5 511.4 633.9 511.4 635.4 511.4 636.8 511.4 638.3 511.4 639.7 511.4 641.2 511.4 642.6 511.4 644.1 511.4 645.5 511.4 647.0 511.4 648.4 511.4 649.9 511.4 651.4 511.4 652.8 511.4 654.3 511.4 655.7 511.4 657.2 511.4 658.6 511.4 660.1 511.4 661.5 511.4 663.0 511.4 664.4 511.4 665.9 511.4 667.3 511.4 668.8 511.4 670.2 511.4 671.7 511.4 673.1 511.4 674.6 511.4 676.0 511.4 677.5 511.4 678.9 511.4 680.4 511.4 681.8 511.4 683.3 511.4 684.7 511.4 686.2 511.4 687.7 511.4 689.1 511.4 690.6 511.4 692.0 511.4 693.5 511.4 694.9 511.4 696.4 511.4 697.8 511.4 699.3 511.4 700.7 511.4 702.2 511.4 703.6 511.4 705.1 511.4 706.5 511.4 708.0 511.4 709.4 511.4 710.9 511.4 712.3 511.4 713.8 511.4 715.2 511.4 716.7 511.4 718.1 511.4 719.6 511.4 721.1 511.4" stroke="#e377c2" stroke-width="2.1"/><path d="M374.0 159.5L375.5 178.1 376.9 195.6 378.4 212.3 379.8 228.1 381.3 243.0 382.7 257.2 384.2 270.6 385.6 283.3 387.1 295.3 388.5 306.7 390.0 317.5 391.4 327.8 392.9 337.4 394.3 346.6 395.8 355.3 397.2 363.6 398.7 371.4 400.1 378.7 401.6 385.7 403.1 392.4 404.5 398.7 406.0 404.6 407.4 410.2 408.9 415.6 410.3 420.6 411.8 425.4 413.2 430.0 414.7 434.2 416.1 438.3 417.6 442.2 419.0 445.8 420.5 449.3 421.9 452.6 423.4 455.7 424.8 458.6 426.3 461.4 427.7 464.0 429.2 466.5 430.6 468.9 432.1 471.1 433.5 473.3 435.0 475.3 436.5 477.2 437.9 479.0 439.4 480.7 440.8 482.3 442.3 483.9 443.7 485.3 445.2 486.7 446.6 488.0 448.1 489.2 449.5 490.4 451.0 491.5 452.4 492.5 453.9 493.5 455.3 494.5 456.8 495.4 458.2 496.2 459.7 497.0 461.1 497.8 462.6 498.5 464.0 499.2 465.5 499.8 466.9 500.4 468.4 501.0 469.8 501.6 471.3 502.1 472.8 502.6 474.2 503.0 475.7 503.5 477.1 503.9 478.6 504.3 480.0 504.7 481.5 505.0 482.9 505.4 484.4 505.7 485.8 506.0 487.3 506.3 488.7 506.5 490.2 506.8 491.6 507.0 493.1 507.3 494.5 507.5 496.0 507.7 497.4 507.9 498.9 508.1 500.3 508.2 501.8 508.4 503.2 508.6 504.7 508.7 506.1 508.9 507.6 509.0 509.1 509.1 510.5 509.2 512.0 509.4 513.4 509.5 514.9 509.6 516.3 509.7 517.8 509.8 519.2 509.8 520.7 509.9 522.1 510.0 523.6 510.1 525.0 510.1 526.5 510.2 527.9 510.3 529.4 510.3 530.8 510.4 532.3 510.4 533.7 510.5 535.2 510.5 536.6 510.6 538.1 510.6 539.5 510.7 541.0 510.7 542.4 510.7 543.9 510.8 545.4 510.8 546.8 510.8 548.3 510.9 549.7 510.9 551.2 510.9 552.6 511.0 554.1 511.0 555.5 511.0 557.0 511.0 558.4 511.0 559.9 511.1 561.3 511.1 562.8 511.1 564.2 511.1 565.7 511.1 567.1 511.1 568.6 511.2 570.0 511.2 571.5 511.2 572.9 511.2 574.4 511.2 575.8 511.2 577.3 511.2 578.8 511.2 580.2 511.2 581.7 511.2 583.1 511.3 584.6 511.3 586.0 511.3 587.5 511.3 588.9 511.3 590.4 511.3 591.8 511.3 593.3 511.3 594.7 511.3 596.2 511.3 597.6 511.3 599.1 511.3 600.5 511.3 602.0 511.3 603.4 511.3 604.9 511.3 606.3 511.3 607.8 511.3 609.2 511.3 610.7 511.3 612.1 511.4 613.6 511.4 615.1 511.4 616.5 511.4 618.0 511.4 619.4 511.4 620.9 511.4 622.3 511.4 623.8 511.4 625.2 511.4 626.7 511.4 628.1 511.4 629.6 511.4 631.0 511.4 632.5 511.4 633.9 511.4 635.4 511.4 636.8 511.4 638.3 511.4 639.7 511.4 641.2 511.4 642.6 511.4 644.1 511.4 645.5 511.4 647.0 511.4 648.4 511.4 649.9 511.4 651.4 511.4 652.8 511.4 654.3 511.4 655.7 511.4 657.2 511.4 658.6 511.4 660.1 511.4 661.5 511.4 663.0 511.4 664.4 511.4 665.9 511.4 667.3 511.4 668.8 511.4 670.2 511.4 671.7 511.4 673.1 511.4 674.6 511.4 676.0 511.4 677.5 511.4 678.9 511.4 680.4 511.4 681.8 511.4 683.3 511.4 684.7 511.4 686.2 511.4 687.7 511.4 689.1 511.4 690.6 511.4 692.0 511.4 693.5 511.4 694.9 511.4 696.4 511.4 697.8 511.4 699.3 511.4 700.7 511.4 702.2 511.4 703.6 511.4 705.1 511.4 706.5 511.4 708.0 511.4 709.4 511.4 710.9 511.4 712.3 511.4 713.8 511.4 715.2 511.4 716.7 511.4 718.1 511.4 719.6 511.4 721.1 511.4" stroke="#847d83" stroke-width="2.0"/><path d="M374.9 540.0V540.0V540.0V540.0V540.0V540.0V540.0V540.0V540.0V540.0L376.8 540.0V540.0V540.0V540.0V540.0V540.0V519.9V540.0V540.0V526.2V515.0L378.7 517.2V515.2V471.3V492.5V516.7V521.8V513.4V504.1V479.9V520.4V477.5L380.7 525.4V540.0V540.0V498.5V535.4V540.0V492.6V517.1V502.8V533.7V540.0L382.6 516.0V493.6V468.9V540.0V521.9V453.3V488.7V471.9V493.5V502.6V495.5L384.5 512.5V524.4V453.3V473.1V437.4V451.2V475.4V514.8V525.8V515.2V505.1L386.5 506.9V507.1V537.0V467.1V501.4V498.7V530.5V514.4V512.6V485.2V444.4L388.4 527.9V511.5V453.5V511.5V504.1V459.7V504.1V507.0V540.0V489.8V540.0L390.3 495.3V517.0V494.5V517.0V503.5V528.8V463.4V484.9V475.4V500.4V527.4L392.3 494.4V471.8V540.0V508.0V537.7V512.0V450.8V478.5V535.1V500.6V503.4L394.2 488.8V498.4V540.0V500.9V539.5V511.8V540.0V495.2V518.6V540.0V516.4L396.1 510.4V540.0V516.4V517.2V514.5V512.2V524.8V500.9V540.0V478.9V514.5L398.0 513.7V540.0V478.6V540.0V500.9V524.6V540.0V504.2V507.4V524.7V540.0L400.0 502.6V523.8V509.9V526.3V535.1V510.1V513.5V534.3V537.0V507.8V518.2L401.9 521.5V533.5V499.3V505.3V505.8V540.0V521.4V532.1V511.2V501.0V530.2L403.8 507.9V506.2V540.0V485.6V494.0V504.0V513.7V505.1V498.4V496.3V504.6L405.8 513.4V491.0V526.6V511.3V538.7V509.8V511.1V517.9V534.0V520.6V525.6L407.7 520.1V513.0V531.9V522.6V513.4V499.4V531.6V522.9V522.3V504.0V458.9L409.6 497.7V501.7V504.1V539.3V507.1V531.2V496.7V535.9V506.5V540.0V469.7L411.5 487.3V488.7V536.9V502.9V476.7V486.1V501.2V488.4V469.9V512.4V496.0L413.5 540.0V497.4V540.0V499.6V540.0V479.9V509.5V526.3V527.1V508.1V515.3L415.4 487.6V523.3V521.3V533.0V495.4V499.8V498.8V476.1V514.6V540.0V521.1L417.3 532.5V493.2V481.2V537.1V498.7V523.4V527.1V504.5V514.1V533.7V518.8L419.3 491.7V506.8V517.3V539.1V509.9V506.5V498.2V524.3V501.6V513.6V504.9L421.2 511.2V530.8V532.1V525.8V515.6V526.7V513.0V526.3V492.0V484.9V493.2L423.1 495.7V510.5V491.6V514.5V509.1V515.3V496.8V516.3V517.2V525.9V515.6L425.0 511.9V515.1V518.7V499.1V509.8V527.3V505.7V521.5V514.2V500.4V520.8L427.0 518.4V508.5V509.7V516.8V512.4V526.0V505.5V521.1V509.6V522.1V499.9L428.9 512.3V510.6V507.0V522.4V514.1V521.6V504.4V489.6V524.3V525.6V517.4L430.8 500.1V521.8V511.1V507.0V495.4V499.8V502.3V513.3V501.3V503.5V512.6L432.8 511.7V511.4V499.1V490.0V497.1V518.8V508.6V499.4V518.3V512.3V511.5L434.7 503.3V514.8V530.6V527.3V514.1V522.8V513.1V509.5V516.5V511.2V526.0L436.6 479.8V522.8V509.3V506.6V528.0V498.0V515.2V517.4V507.7V515.0V516.7L438.5 484.1V510.3V496.6V506.2V489.9V519.4V531.3V510.0V503.5V501.1V503.9L440.5 514.1V497.3V540.0V511.2V514.8V478.3V497.2V519.9V516.3V501.7V496.6L442.4 510.5V491.0V500.2V503.4V529.4V513.9V507.6V521.0V519.5V522.6V504.3L444.3 502.6V508.8V508.0V536.1V517.9V506.2V509.9V512.6V498.0V517.0V505.5L446.3 516.7V502.1V524.4V504.7V508.1V517.4V508.0V509.2V515.5V515.3V500.7L448.2 515.0V516.6V514.7V502.4V519.2V522.4V500.3V520.9V520.6V517.3V509.5L450.1 513.4V518.1V532.4V522.7V517.7V497.1V507.8V512.5V502.7V512.7V521.7L452.0 521.6V502.2V511.7V521.2V507.6V516.1V516.0V525.5V520.6V515.6V520.3L454.0 515.4V524.9V510.3V519.8V505.1V524.4V510.8V506.4V524.1V511.0V514.2L455.9 528.6V514.0V523.5V518.6V513.7V508.7V513.5V513.3V519.6V508.3V513.0L457.8 512.9V517.6V517.5V517.4V507.7V502.8V512.3V507.4V516.9V521.6V516.7L459.8 521.4V511.7V511.6V497.1V516.2V521.0V516.1V520.8V520.7V525.4V515.7L461.7 515.6V515.5V505.8V515.3V520.1V505.5V519.9V524.6V510.1V514.8V524.3L463.6 519.4V514.5V519.3V519.2V514.3V514.2V514.1V523.7V518.8V509.1V518.6L465.6 513.7V518.5V523.2V508.7V518.2V513.4V518.1V522.8V513.1V522.7V517.8L467.5 503.3V517.7V522.4V517.5V522.3V517.4V517.3V502.8V517.2V512.3V521.8L469.4 512.1V507.3V512.0V516.7V521.5V521.4V516.6V521.3V521.2V521.2V521.1L471.3 511.4V516.2V506.5V511.2V516.0V515.9V511.0V511.0V515.7V510.9V510.8L473.3 505.9V515.5V520.3V515.4V520.1V510.5V510.4V510.3V505.5V519.9V515.0L475.2 519.8V510.1V519.6V514.8V519.5V514.7V514.6V519.4V500.1V514.5V514.4L477.1 514.4V519.1V509.4V519.0V519.0V518.9V514.1V514.0V514.0V518.7V513.9L479.1 513.8V518.6V504.1V518.5V518.4V518.4V518.4V518.3V513.4V518.2V508.5L481.0 518.1V508.5V513.2V518.0V518.0V508.3V513.1V517.8V517.8V508.1V517.7L482.9 512.8V512.8V507.9V507.9V517.5V517.5V512.6V512.6V507.7V517.3V517.3L484.8 517.2V512.4V517.2V512.3V517.1V507.4V512.2V512.1V512.1V512.1V516.9L486.8 516.8V512.0V516.8V516.7V516.7V516.6V516.6V516.6V516.5V516.5V511.7L488.7 511.6V516.4V516.4V516.3V516.3V516.3V511.4V511.4V511.4V516.2V511.3L490.6 511.3V516.1V516.0V516.0V511.2V511.1V511.1V515.9V515.9V511.0V515.8L492.6 515.8V515.7V515.7V515.7V506.0V510.8V510.8V515.6V515.5V515.5V515.5L494.5 510.6V510.6V510.6V515.4V510.5V515.3V510.5V510.5V515.3V510.4V515.2L496.4 515.2V515.2V515.1V510.3V515.1V510.2V515.0V515.0V515.0V505.3V514.9L498.3 514.9V514.9V514.9V514.9V514.8V514.8V510.0V514.8V514.7V509.9V514.7L500.3 514.7V514.7V514.6V514.6V514.6V514.6V514.5V514.5V514.5V514.5V514.5L502.2 514.4V514.4V500.0V509.6V514.4V514.3V514.3V514.3V514.3V509.5V509.4L504.1 514.2V514.2V509.4V514.2V514.2V509.3V514.1V514.1V504.5V514.1V514.1L506.1 514.0V514.0V514.0V514.0V514.0V514.0V513.9V513.9V513.9V513.9V509.1L508.0 513.9V513.8V513.8V513.8V513.8V513.8V513.8V513.7V513.7V513.7V508.9L509.9 513.7V513.7V513.7V513.6V504.0V513.6V513.6V513.6V513.6V513.6V508.7L511.8 513.5V513.5V508.7V513.5V513.5V513.5V513.4V513.4V513.4V508.6V513.4L513.8 513.4V513.4V513.4V513.3V513.3V508.5V508.5V513.3V513.3V513.3V513.3L515.7 513.2V513.2V513.2V513.2V513.2V513.2V513.2V513.2V508.3V513.1V513.1L517.6 513.1V513.1V508.3V513.1V513.1V513.1V508.2V513.0V513.0V513.0V513.0L519.6 513.0V513.0V513.0V513.0V513.0V512.9V512.9V512.9V508.1V508.1V512.9L521.5 512.9V512.9V512.9V512.9V512.8V512.8V512.8V512.8V512.8V512.8V512.8L523.4 512.8V512.8V512.8V512.8V512.7V512.7V512.7V512.7V512.7V503.1V512.7L525.3 512.7V507.9V512.7V512.7V512.7V512.6V512.6V512.6V512.6V512.6V512.6L527.3 512.6V512.6V512.6V512.6V512.6V512.6V512.5V512.5V507.7V512.5V512.5L529.2 512.5V507.7V512.5V512.5V512.5V512.5V512.5V512.5V512.5V512.4V512.4L531.1 512.4V512.4V512.4V512.4V512.4V512.4V512.4V512.4V507.6V512.4V512.4L533.1 512.4V512.4V512.4V512.3V512.3V512.3V512.3V512.3V512.3V512.3V512.3L535.0 512.3V512.3V512.3V512.3V512.3V512.3V512.3V512.3V512.3V512.2V512.2L536.9 512.2V512.2V512.2V512.2V512.2V512.2V512.2V512.2V512.2V512.2V512.2L538.9 512.2V512.2V512.2V512.2V512.2V512.2V512.1V512.1V512.1V507.3V512.1L540.8 512.1V512.1V512.1V512.1V512.1V507.3V512.1V512.1V512.1V512.1V512.1L542.7 507.3V512.1V512.1V512.1V512.1V512.1V512.0V507.2V512.0V512.0V512.0L544.6 512.0V512.0V512.0V512.0V512.0V512.0V512.0V512.0V512.0V512.0V512.0L546.6 512.0V512.0V512.0V512.0V512.0V512.0V502.3V512.0V512.0V511.9V511.9L548.5 511.9V511.9V511.9V511.9V511.9V511.9V511.9V511.9V511.9V511.9V511.9L550.4 511.9V511.9V511.9V511.9V511.9V511.9V511.9V511.9V511.9V511.9V511.9L552.4 511.9V511.9V511.9V511.9V511.9V511.9V511.9V511.8V511.8V511.8V511.8L554.3 511.8V511.8V511.8V511.8V511.8V511.8V511.8V511.8V511.8V511.8V511.8L556.2 511.8V511.8V511.8V507.0V511.8V511.8V511.8V511.8V511.8V511.8V511.8L558.1 507.0V511.8V511.8V511.8V511.8V511.8V511.8V511.8V511.8V511.8V511.8L560.1 511.8V511.7V511.7V511.7V511.7V511.7V511.7V511.7V511.7V511.7V511.7L562.0 511.7V511.7V511.7V511.7V511.7V511.7V511.7V511.7V511.7V511.7V511.7L563.9 511.7V511.7V511.7V511.7V511.7V511.7V511.7V511.7V511.7V511.7V511.7L565.9 511.7V511.7V511.7V511.7V511.7V511.7V511.7V511.7V511.7V511.7V511.7L567.8 511.7V511.7V511.7V511.7V511.7V511.7V511.7V511.7V511.7V511.6V511.6L569.7 511.6V506.8V511.6V511.6V506.8V511.6V511.6V511.6V511.6V511.6V511.6L571.6 511.6V511.6V511.6V511.6V511.6V511.6V511.6V511.6V511.6V511.6V511.6L573.6 511.6V511.6V511.6V511.6V511.6V511.6V511.6V511.6V511.6V511.6V511.6L575.5 511.6V511.6V511.6V511.6V511.6V511.6V511.6V511.6V511.6V511.6V511.6L577.4 511.6V511.6V511.6V511.6V511.6V511.6V511.6V511.6V511.6V511.6V511.6L579.4 511.6V511.6V511.6V511.6V511.6V511.6V511.6V511.6V511.6V511.6V511.6L581.3 511.6V511.6V511.6V511.6V511.6V511.6V511.6V511.6V511.6V511.6V511.5L583.2 511.5V511.5V511.5V511.5V511.5V511.5V511.5V511.5V511.5V511.5V511.5L585.1 511.5V511.5V511.5V511.5V511.5V511.5V511.5V511.5V511.5V511.5V511.5L587.1 511.5V511.5V511.5V511.5V511.5V511.5V511.5V511.5V511.5V511.5V511.5L589.0 511.5V511.5V511.5V511.5V511.5V511.5V511.5V511.5V511.5V511.5V511.5L590.9 511.5V511.5V511.5V511.5V511.5V511.5V511.5V511.5V511.5V511.5V511.5L592.9 511.5V511.5V511.5V511.5V511.5V511.5V511.5V511.5V511.5V511.5V511.5L594.8 511.5V511.5V506.7V511.5V511.5V511.5V511.5V511.5V511.5V511.5V511.5L596.7 511.5V511.5V511.5V511.5V511.5V511.5V511.5V511.5V511.5V511.5V511.5L598.6 511.5V511.5V511.5V511.5V511.5V511.5V511.5V511.5V511.5V511.5V511.5L600.6 511.5V511.5V511.5V511.5V511.5V511.5V511.5V511.5V511.5V511.5V511.5L602.5 511.5V511.5V511.5V511.5V511.5V511.5V511.5V511.5V511.5V511.5V511.5L604.4 511.5V511.5V511.5V511.5V511.5V511.5V511.5V511.5V511.5V511.5V511.5L606.4 511.5V511.5V511.5V511.5V511.5V511.5V511.5V511.5V511.5V511.5V511.5L608.3 511.5V511.5V511.5V511.5V511.5V511.5V511.5V511.5V511.5V511.5V511.5L610.2 511.5V511.5V511.5V511.5V511.5V511.5V511.5V511.5V511.5V511.5V511.5L612.2 511.5V511.4V511.4V511.4V511.4V511.4V511.4V511.4V511.4V511.4V511.4L614.1 511.4V511.4V511.4V511.4V511.4V511.4V511.4V511.4V511.4V511.4V511.4L616.0 511.4V511.4V511.4V511.4V511.4V511.4V511.4V511.4V511.4V511.4V511.4L617.9 511.4V511.4V511.4V511.4V511.4V511.4V511.4V511.4V511.4V511.4V511.4L619.9 511.4V511.4V511.4V511.4V511.4V511.4V511.4V511.4V511.4V511.4V511.4L621.8 511.4V511.4V511.4V511.4V511.4V511.4V511.4V511.4V511.4V511.4V511.4L623.7 511.4V511.4V511.4V511.4V511.4V511.4V511.4V511.4V511.4V511.4V511.4L625.7 511.4V511.4V511.4V511.4V511.4V511.4V511.4V511.4V511.4V511.4V511.4L627.6 511.4V511.4V511.4V511.4V511.4V511.4V511.4V511.4V511.4V511.4V511.4L629.5 511.4V511.4V511.4V511.4V511.4V511.4V511.4V511.4V511.4V511.4V511.4L631.4 511.4V511.4V511.4V511.4V511.4V511.4V511.4V511.4V511.4V511.4V511.4L633.4 511.4V511.4V511.4V511.4V511.4V511.4V511.4V511.4V511.4V511.4V511.4L635.3 511.4V511.4V511.4V511.4V511.4V511.4V511.4V511.4V511.4V511.4V511.4L637.2 511.4V511.4V511.4V511.4V511.4V511.4V511.4V511.4V511.4V511.4V511.4L639.2 511.4V511.4V511.4V511.4V511.4V511.4V511.4V511.4V511.4V511.4V511.4L641.1 511.4V511.4V511.4V511.4V511.4V511.4V511.4V511.4V511.4V511.4V511.4L643.0 511.4V511.4V511.4V511.4V511.4V511.4V511.4V511.4V511.4V511.4V511.4L644.9 511.4V511.4V511.4V511.4V511.4V511.4V511.4V511.4V511.4V511.4V511.4L646.9 511.4V511.4V511.4V511.4V511.4V511.4V511.4V511.4V511.4V511.4V511.4L648.8 511.4V511.4V511.4V511.4V511.4V511.4V511.4V511.4V511.4V511.4V511.4L650.7 511.4V511.4V511.4V511.4V511.4V511.4V511.4V511.4V511.4V511.4V511.4L652.7 511.4V511.4V511.4V511.4V511.4V511.4V511.4V511.4V511.4V511.4V511.4L654.6 511.4V511.4V511.4V511.4V511.4V511.4V511.4V511.4V511.4V511.4V511.4L656.5 511.4V511.4V511.4V511.4V511.4V511.4V511.4V511.4V511.4V511.4V511.4L658.4 511.4V511.4V511.4V511.4V511.4V511.4V511.4V511.4V511.4V511.4V511.4L660.4 511.4V511.4V511.4V511.4V511.4V511.4V511.4V511.4V511.4V511.4V511.4L662.3 511.4V511.4V511.4V511.4V511.4V511.4V511.4V511.4V511.4V511.4V511.4L664.2 511.4V511.4V511.4V511.4V511.4V511.4V511.4V511.4V511.4V511.4V511.4L666.2 511.4V511.4V511.4V511.4V511.4V511.4V511.4V511.4V511.4V511.4V511.4L668.1 511.4V511.4V511.4V511.4V511.4V511.4V511.4V511.4V511.4V511.4V511.4L670.0 511.4V511.4V511.4V511.4V511.4V511.4V511.4V511.4V511.4V511.4V511.4L671.9 511.4V511.4V511.4V511.4V511.4V511.4V511.4V511.4V511.4V511.4V511.4L673.9 511.4V511.4V511.4V511.4V511.4V511.4V511.4V511.4V511.4V511.4V511.4L675.8 511.4V511.4V511.4V511.4V511.4V511.4V511.4V511.4V511.4V511.4V511.4L677.7 511.4V511.4V511.4V511.4V511.4V511.4V511.4V511.4V511.4V511.4V511.4L679.7 511.4V511.4V511.4V511.4V511.4V511.4V511.4V511.4V511.4V511.4V511.4L681.6 511.4V511.4V511.4V511.4V511.4V511.4V511.4V511.4V511.4V511.4V511.4L683.5 511.4V511.4V511.4V511.4V511.4V511.4V511.4V511.4V511.4V511.4V511.4L685.5 511.4V511.4V511.4V511.4V511.4V511.4V511.4V511.4V511.4V511.4V511.4L687.4 511.4V511.4V511.4V511.4V511.4V511.4V511.4V511.4V511.4V511.4V511.4L689.3 511.4V511.4V511.4V511.4V511.4V511.4V511.4V511.4V511.4V511.4V511.4L691.2 511.4V511.4V511.4V511.4V511.4V511.4V511.4V511.4V511.4V511.4V511.4L693.2 511.4V511.4V511.4V511.4V511.4V511.4V511.4V511.4V511.4V511.4V511.4L695.1 511.4V511.4V511.4V511.4V511.4V511.4V511.4V511.4V511.4V511.4V511.4L697.0 511.4V511.4V511.4V511.4V511.4V511.4V511.4V511.4V511.4V511.4V511.4L699.0 511.4V511.4V511.4V511.4V511.4V511.4V511.4V511.4V511.4V511.4V511.4L700.9 511.4V511.4V511.4V511.4V511.4V511.4V511.4V511.4V511.4V511.4V511.4L702.8 511.4V511.4V511.4V511.4V511.4V511.4V511.4V511.4V511.4V511.4V511.4L704.7 511.4V511.4V511.4V511.4V511.4V511.4V511.4V511.4V511.4V511.4V511.4L706.7 511.4V511.4V511.4V511.4V511.4V511.4V511.4V511.4V511.4V511.4V511.4L708.6 511.4V511.4V511.4V511.4V511.4V511.4V511.4V511.4V511.4V511.4V511.4L710.5 511.4V511.4V511.4V511.4V511.4V511.4V511.4V511.4V511.4V511.4V511.4L712.5 511.4V511.4V511.4V511.4V511.4V511.4V511.4V511.4V511.4V511.4V511.4L714.4 511.4V511.4V511.4V511.4V511.4V511.4V511.4V511.4V511.4V511.4V511.4L716.3 511.4V511.4V511.4V511.4V511.4V511.4V511.4V511.4V511.4V511.4V511.4L718.2 511.4V511.4V511.4V511.4V511.4V511.4V511.4V511.4V511.4V511.4V511.4L720.2 511.4V511.4V511.4V511.4V511.4V511.4V511.4V511.4V511.4V511.4V511.4" stroke="#bcbd22" stroke-width="2.0"/><line x1="373.6" y1="424" x2="373.6" y2="530" stroke="#bcbd22" stroke-width="1.3"/><line x1="373.5" y1="154.0" x2="373.5" y2="528.5" stroke="#008000" stroke-width="1.25" stroke-dasharray="4.6 2.3"/><line x1="720.5" y1="154.0" x2="720.5" y2="528.5" stroke="#008000" stroke-width="1.25" stroke-dasharray="4.6 2.3"/></g><rect x="354.5" y="152.7" width="384.8" height="375.8" fill="none" stroke="#000" stroke-width="1.1"/><path d="M349.6 511.4 H354.5 M349.6 451.2 H354.5 M349.6 391.0 H354.5 M349.6 330.8 H354.5 M349.6 270.6 H354.5 M349.6 210.4 H354.5 M378.2 528.5 V533.4 M433.0 528.5 V533.4 M487.8 528.5 V533.4 M542.6 528.5 V533.4 M597.4 528.5 V533.4 M652.2 528.5 V533.4 M707.0 528.5 V533.4" stroke="#000" stroke-width="1.1" fill="none"/><text x="344.5" y="515.8" text-anchor="end" font-size="12.2" textLength="7.6" lengthAdjust="spacingAndGlyphs" style="font-family:'Liberation Sans',sans-serif">0</text><text x="344.5" y="455.6" text-anchor="end" font-size="12.2" textLength="31.7" lengthAdjust="spacingAndGlyphs" style="font-family:'Liberation Sans',sans-serif">1000</text><text x="344.5" y="395.4" text-anchor="end" font-size="12.2" textLength="31.7" lengthAdjust="spacingAndGlyphs" style="font-family:'Liberation Sans',sans-serif">2000</text><text x="344.5" y="335.2" text-anchor="end" font-size="12.2" textLength="31.7" lengthAdjust="spacingAndGlyphs" style="font-family:'Liberation Sans',sans-serif">3000</text><text x="344.5" y="275.0" text-anchor="end" font-size="12.2" textLength="31.7" lengthAdjust="spacingAndGlyphs" style="font-family:'Liberation Sans',sans-serif">4000</text><text x="344.5" y="214.8" text-anchor="end" font-size="12.2" textLength="31.7" lengthAdjust="spacingAndGlyphs" style="font-family:'Liberation Sans',sans-serif">5000</text><text x="377.4" y="547.4" text-anchor="middle" font-size="12.2" textLength="7.5" lengthAdjust="spacingAndGlyphs" style="font-family:'Liberation Sans',sans-serif">0</text><text x="432.2" y="547.4" text-anchor="middle" font-size="12.2" textLength="7.5" lengthAdjust="spacingAndGlyphs" style="font-family:'Liberation Sans',sans-serif">5</text><text x="487.0" y="547.4" text-anchor="middle" font-size="12.2" textLength="15.4" lengthAdjust="spacingAndGlyphs" style="font-family:'Liberation Sans',sans-serif">10</text><text x="541.8" y="547.4" text-anchor="middle" font-size="12.2" textLength="15.4" lengthAdjust="spacingAndGlyphs" style="font-family:'Liberation Sans',sans-serif">15</text><text x="596.6" y="547.4" text-anchor="middle" font-size="12.2" textLength="15.4" lengthAdjust="spacingAndGlyphs" style="font-family:'Liberation Sans',sans-serif">20</text><text x="651.4" y="547.4" text-anchor="middle" font-size="12.2" textLength="15.4" lengthAdjust="spacingAndGlyphs" style="font-family:'Liberation Sans',sans-serif">25</text><text x="706.2" y="547.4" text-anchor="middle" font-size="12.2" textLength="15.4" lengthAdjust="spacingAndGlyphs" style="font-family:'Liberation Sans',sans-serif">30</text><text x="516.9" y="567.2" font-size="12.2" textLength="61" lengthAdjust="spacingAndGlyphs" style="font-family:'Liberation Sans',sans-serif">Time (<tspan font-style="italic">μs</tspan>)</text><text transform="translate(299.4 382.6) rotate(-90)" x="0" y="0" font-size="12.2" textLength="73" lengthAdjust="spacingAndGlyphs" style="font-family:'Liberation Sans',sans-serif">Counts (<tspan font-style="italic">μs</tspan>)</text><text transform="translate(294.4 309.0) rotate(-90)" x="0" y="0" font-size="8.6" style="font-family:'Liberation Sans',sans-serif">−1</text><text x="477.3" y="144.0" font-size="16" textLength="139.5" lengthAdjust="spacingAndGlyphs" style="font-family:'Liberation Sans',sans-serif">MUSR00015189_2</text><rect x="407.5" y="158.6" width="279" height="81.1" rx="2.5" fill="#fff" fill-opacity="0.8" stroke="#cccccc" stroke-width="1"/><line x1="411.3" y1="168.9" x2="438.7" y2="168.9" stroke="#1f77b4" stroke-width="2"/><text x="448.6" y="172.8" font-size="12" textLength="176.2" lengthAdjust="spacingAndGlyphs" style="font-family:'Liberation Sans',sans-serif">MUSR00015189_2: spec 64</text><line x1="411.3" y1="188.2" x2="438.7" y2="188.2" stroke="#e377c2" stroke-width="2"/><text x="449.6" y="192.1" font-size="12" textLength="161.0" lengthAdjust="spacingAndGlyphs" style="font-family:'Liberation Sans',sans-serif">MUSR00015189_2_guess</text><line x1="411.3" y1="207.5" x2="438.7" y2="207.5" stroke="#7f7f7f" stroke-width="2"/><text x="448.6" y="211.4" font-size="12" textLength="231.6" lengthAdjust="spacingAndGlyphs" style="font-family:'Liberation Sans',sans-serif">MUSR00015189_2_Workspace: Calc</text><line x1="411.3" y1="226.8" x2="438.7" y2="226.8" stroke="#bcbd22" stroke-width="2"/><text x="448.6" y="230.7" font-size="12" textLength="226.8" lengthAdjust="spacingAndGlyphs" style="font-family:'Liberation Sans',sans-serif">MUSR00015189_2_Workspace: Diff</text></svg>
<div class="b" style="left:17px;top:584px;width:1px;height:16px;background:#d6d6d6"></div>
<svg class="b" style="left:770px;top:585px" width="18" height="17" viewBox="770 585 18 17"><rect x="784.5" y="592.5" width="2" height="2" fill="#a8a8a8"/><rect x="781.5" y="595.5" width="2" height="2" fill="#a8a8a8"/><rect x="784.5" y="595.5" width="2" height="2" fill="#a8a8a8"/><rect x="778.5" y="598.5" width="2" height="2" fill="#a8a8a8"/><rect x="781.5" y="598.5" width="2" height="2" fill="#a8a8a8"/><rect x="784.5" y="598.5" width="2" height="2" fill="#a8a8a8"/></svg>
</body></html>
